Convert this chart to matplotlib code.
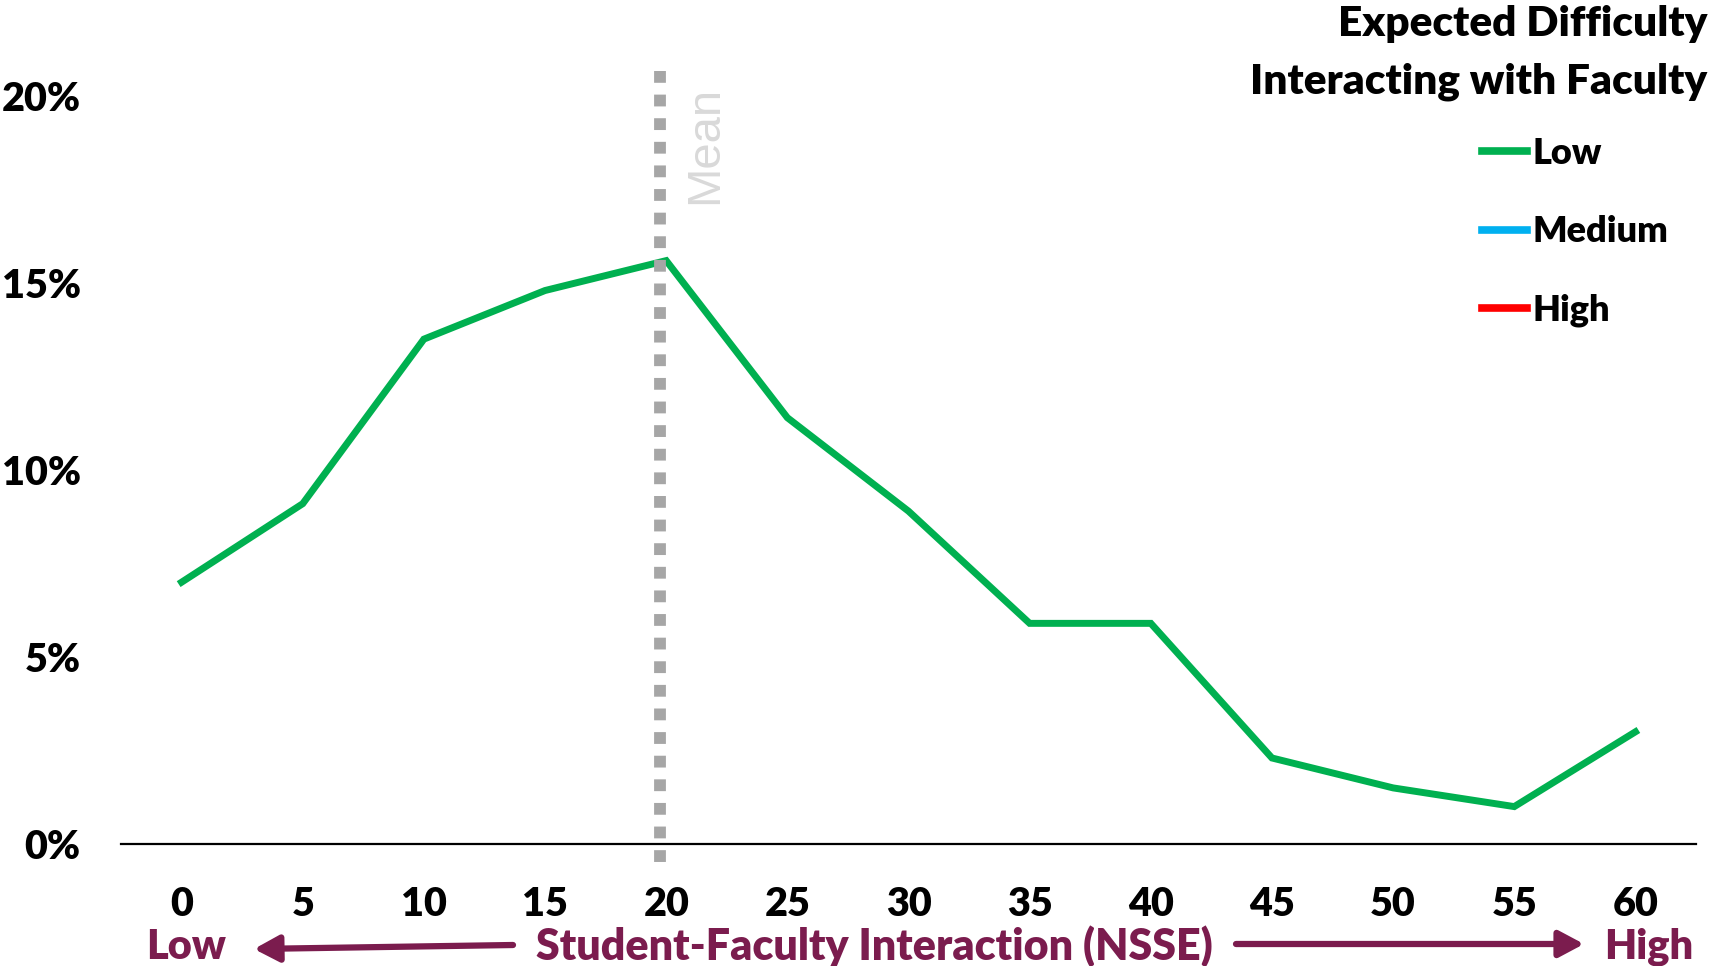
import matplotlib
matplotlib.use("Agg")
import matplotlib.pyplot as plt
from matplotlib.lines import Line2D
from matplotlib.patches import FancyArrowPatch
from matplotlib.ticker import FuncFormatter

plt.rcParams['font.family'] = ['Lato', 'DejaVu Sans']

# Student-Faculty Interaction score (NSSE) and share of students (%)
scores = [0, 5, 10, 15, 20, 25, 30, 35, 40, 45, 50, 55, 60]
low_pct = [7.0, 9.1, 13.5, 14.8, 15.6, 11.4, 8.9, 5.9, 5.9, 2.3, 1.5, 1.0, 3.0]
mean_score = 19.75

series_labels = ["Low", "Medium", "High"]
series_colors = ["#00B050", "#00B0F0", "#FF0000"]
y_ticks = [0, 5, 10, 15, 20]

W, H = 1710, 966
fig = plt.figure(figsize=(W / 100, H / 100), dpi=100)
ax = fig.add_axes([121 / W, (H - 844) / H, (1696 - 121) / W, (844 - 71) / H])

ax.plot(scores, low_pct, color=series_colors[0], lw=5.0, solid_joinstyle='miter',
        zorder=3)

# Mean marker: dotted vertical line extending slightly below the axis
ax.plot([mean_score, mean_score], [20.67, -0.65], color="#A6A6A6", lw=8.5,
        linestyle=(0, (1.0, 1.0)), dash_capstyle='butt', clip_on=False, zorder=5)
ax.text(21.62, 18.7, "Mean", rotation=90, ha='center', va='center',
        color="#D9D9D9", fontsize=34, family=['Liberation Sans', 'DejaVu Sans'])

ax.set_xlim(-2.5, 62.5)
ax.set_ylim(0, 20.67)
ax.set_xticks(scores)
ax.set_yticks(y_ticks)
ax.yaxis.set_major_formatter(FuncFormatter(lambda v, p: f"{int(v)}%"))
for s in ['top', 'right', 'left']:
    ax.spines[s].set_visible(False)
ax.spines['bottom'].set_linewidth(1.6)
ax.spines['bottom'].set_zorder(4)
ax.tick_params(axis='both', length=0, labelsize=28.5)
ax.tick_params(axis='y', pad=29)
ax.tick_params(axis='x', pad=30)
for lbl in ax.get_xticklabels() + ax.get_yticklabels():
    lbl.set_fontweight('heavy')

# Axis description with direction arrows
plum = "#7B1C4E"
fig.text(186 / W, (H - 947) / H, "Low", ha='center', va='center', color=plum,
         fontsize=30, fontweight='heavy')
fig.text(874 / W, (H - 946) / H, "Student-Faculty Interaction (NSSE)", ha='center',
         va='center', color=plum, fontsize=31, fontweight='heavy')
fig.text(1649 / W, (H - 947) / H, "High", ha='center', va='center', color=plum,
         fontsize=30, fontweight='heavy')
arrow_kw = dict(arrowstyle='-|>,head_length=0.75,head_width=0.4', color=plum, lw=4.5,
                mutation_scale=20, shrinkA=0, shrinkB=0)
fig.add_artist(FancyArrowPatch(
    (513 / W, (H - 945) / H), (254 / W, (H - 949) / H),
    transform=fig.transFigure, **arrow_kw))
fig.add_artist(FancyArrowPatch(
    (1236 / W, (H - 944) / H), (1584 / W, (H - 944) / H),
    transform=fig.transFigure, **arrow_kw))

# Legend
fig.text(1707 / W, (H - 24) / H, "Expected Difficulty", ha='right', va='center',
         fontsize=30.5, fontweight='heavy')
fig.text(1707 / W, (H - 82) / H, "Interacting with Faculty", ha='right', va='center',
         fontsize=30.5, fontweight='heavy')
handles = [Line2D([], [], color=c, lw=5.5) for c in series_colors]
leg = fig.legend(handles, series_labels, loc='upper left',
                 bbox_to_anchor=(1482 / W, (H - 137) / H), frameon=False,
                 prop={'size': 26, 'weight': 'heavy'}, handlelength=1.25,
                 handletextpad=0.15, labelspacing=1.25, borderpad=0, borderaxespad=0)

fig.savefig("out.png", dpi=100)
